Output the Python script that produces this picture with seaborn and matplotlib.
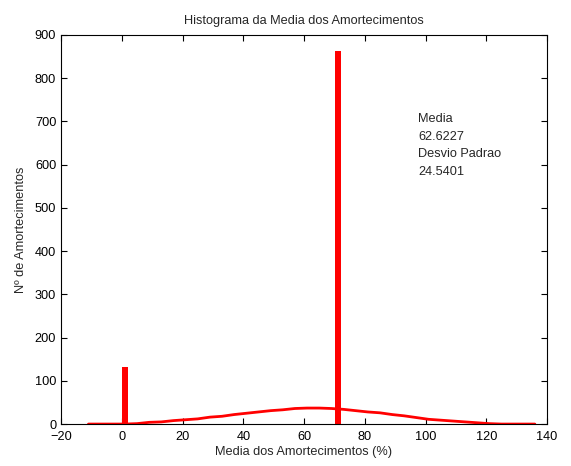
import matplotlib
matplotlib.use("Agg")
import matplotlib.pyplot as plt
import seaborn as sns
import pandas as pd

# --- Data ---
bar_x = [1, 71.3]
bar_counts = [132, 862]

curve_x = [-11, -7, -3, 1, 5, 9, 13, 17, 21, 25, 29, 33, 37, 41, 45, 49, 53, 57,
           61, 65, 69, 73, 77, 81, 85, 89, 93, 97, 101, 105, 109, 113, 117, 121,
           125, 129, 133, 136]
curve_counts = [0, 0, 0, 0, 1, 4, 5, 8, 10, 12, 16, 18, 22, 25, 28, 31, 33, 36,
                37, 37, 36, 34, 31, 28, 26, 22, 19, 15, 11, 9, 7, 5, 3, 1,
                0, 0, 0, 0]

stats_text = "Media\n62.6227\nDesvio Padrao\n24.5401"

# --- Style ---
sns.set_style("ticks", {"xtick.direction": "in", "ytick.direction": "in"})
plt.rcParams["font.family"] = ["Liberation Sans", "DejaVu Sans"]
FS = 9.2
plt.rcParams["font.size"] = FS

fig = plt.figure(figsize=(5.71, 4.66), dpi=100)
ax = fig.add_axes([0.107, 0.090, 0.851, 0.835])

curve_df = pd.DataFrame({"x": curve_x, "n": curve_counts})
sns.lineplot(data=curve_df, x="x", y="n", color="red", linewidth=2, ax=ax)

ax.bar(bar_x, bar_counts, width=2.0, color="red", linewidth=0)

ax.set_xlim(-20, 140)
ax.set_ylim(0, 900)
ax.set_xticks(range(-20, 141, 20))
ax.set_yticks(range(0, 901, 100))
ax.tick_params(top=True, right=True, direction="in", length=4, width=0.8,
               labelsize=FS, colors="black")
ax.tick_params(axis="x", pad=5)
for s in ax.spines.values():
    s.set_linewidth(0.8)
    s.set_color("black")

ax.set_title("Histograma da Media dos Amortecimentos", fontsize=FS, pad=8)
ax.set_xlabel("Media dos Amortecimentos (%)", fontsize=FS, labelpad=2)
ax.set_ylabel("Nº de Amortecimentos", fontsize=FS, labelpad=6)

ax.text(97.5, 720, stats_text, fontsize=FS, va="top", ha="left",
        linespacing=1.65)

fig.savefig("out.png", dpi=100)
